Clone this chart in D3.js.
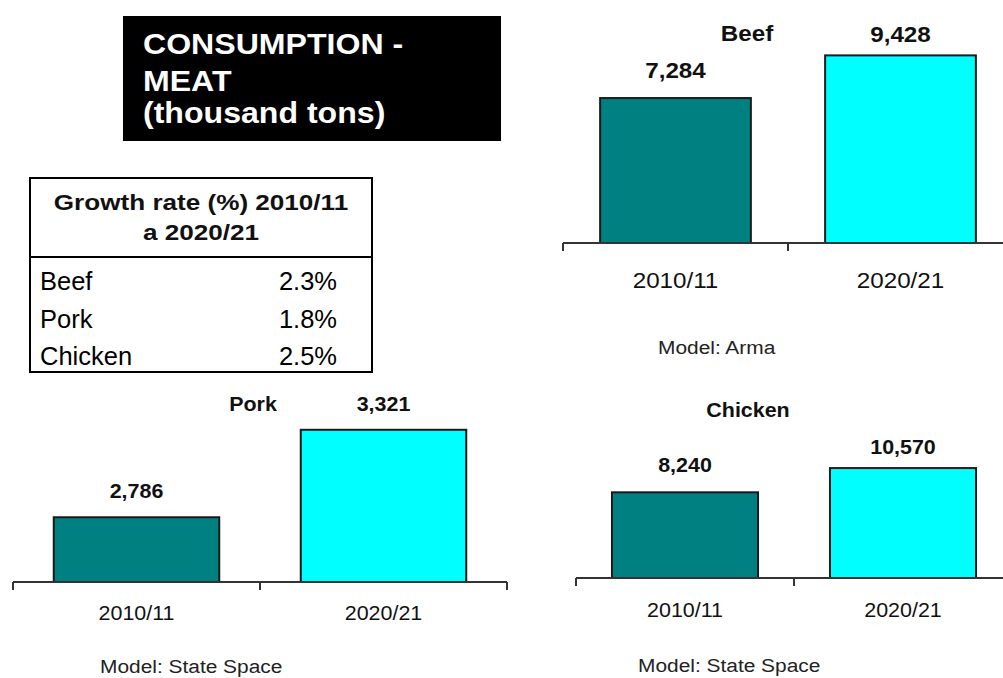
<!DOCTYPE html>
<html lang="en">
  <head>
    <meta charset="UTF-8" />
    <title>Consumption - Meat</title>
    <script src="https://cdn.jsdelivr.net/npm/d3@7"></script>
    <style>
      body {
        margin: 0;
        padding: 0;
        background: #fff;
      }
      text {
        font-family: "Liberation Sans", Arial, sans-serif;
      }
    </style>
  </head>
  <body>
    <svg id="chart"></svg>

    <script>
      // data
      const categories = ["2010/11", "2020/21"];
      const meats = ["Beef", "Pork", "Chicken"];
      const beefValues = [7284, 9428];
      const porkValues = [2786, 3321];
      const chickenValues = [8240, 10570];
      const models = ["Model: Arma", "Model: State Space", "Model: State Space"];
      const growthRates = [2.3, 1.8, 2.5];
      const titleLines = ["CONSUMPTION -", "MEAT", "(thousand tons)"];
      const tableHeader = ["Growth rate (%) 2010/11", "a 2020/21"];

      const barColors = ["#008080", "#00ffff"];
      const fmt = d3.format(",");

      const width = 1003;
      const height = 678;
      const svg = d3.select("#chart").attr("width", width).attr("height", height);

      // text in the picture is a bit wider than plain Arial
      function label(g, str, x, y, size, opts) {
        opts = opts || {};
        return g
          .append("text")
          .attr("transform", `translate(${x},${y}) scale(${opts.sx || 1.1},1)`)
          .attr("text-anchor", opts.anchor || "middle")
          .attr("font-size", size + "px")
          .attr("font-weight", opts.bold ? "bold" : "normal")
          .attr("fill", opts.fill || "#111")
          .text(str);
      }

      // title box
      svg.append("rect").attr("x", 123).attr("y", 16).attr("width", 378).attr("height", 125).attr("fill", "#000");
      const titleY = [54, 91, 123];
      titleLines.forEach((t, i) => {
        label(svg, t, 143, titleY[i], 30, { bold: true, anchor: "start", fill: "#fff", sx: 1.07 });
      });

      // growth-rate table
      const tbl = svg.append("g");
      tbl.append("rect").attr("x", 30).attr("y", 178).attr("width", 342).attr("height", 194)
        .attr("fill", "none").attr("stroke", "#000").attr("stroke-width", 2);
      tbl.append("line").attr("x1", 30).attr("x2", 372).attr("y1", 257).attr("y2", 257)
        .attr("stroke", "#000").attr("stroke-width", 2);
      label(tbl, tableHeader[0], 201, 210, 22.5, { bold: true, sx: 1.16 });
      label(tbl, tableHeader[1], 201, 240, 22.5, { bold: true, sx: 1.16 });
      const rowY = d3.scalePoint().domain(meats).range([290, 365]);
      meats.forEach((m, i) => {
        label(tbl, m, 40, rowY(m), 25.5, { anchor: "start", sx: 1, fill: "#000" });
        label(tbl, d3.format(".1f")(growthRates[i]) + "%", 337, rowY(m), 25.5, { anchor: "end", sx: 1, fill: "#000" });
      });

      // bar panels
      const panels = [
        { name: meats[0], values: beefValues, model: models[0], x0: 563, step: 225, axisY: 243,
          domain: [0, 10000], pxRange: 199, font: 22, titleX: 747, titleY: 41, gaps: [20, 13],
          catY: 288, modelX: 658, modelY: 354 },
        { name: meats[1], values: porkValues, model: models[1], x0: 13, step: 247, axisY: 582,
          domain: [2390, 3390], pxRange: 163.5, font: 19.5, titleX: 253, titleY: 411, gaps: [19, 19],
          catY: 620, modelX: 100, modelY: 673 },
        { name: meats[2], values: chickenValues, model: models[2], x0: 576, step: 218, axisY: 578,
          domain: [0, 10000], pxRange: 104, font: 19.5, titleX: 748, titleY: 417, gaps: [20, 14],
          catY: 617, modelX: 638, modelY: 672 },
      ];

      panels.forEach((p) => {
        const g = svg.append("g");
        const x = d3.scaleBand().domain(categories)
          .range([p.x0, p.x0 + 2 * p.step]).paddingInner(0.33).paddingOuter(0.165);
        const y = d3.scaleLinear().domain(p.domain).range([p.axisY, p.axisY - p.pxRange]);

        g.selectAll("rect.bar")
          .data(p.values)
          .enter()
          .append("rect")
          .attr("class", "bar")
          .attr("x", (d, i) => x(categories[i]))
          .attr("y", (d) => y(d))
          .attr("width", x.bandwidth())
          .attr("height", (d) => p.axisY - y(d))
          .attr("fill", (d, i) => barColors[i])
          .attr("stroke", "#1a1a1a")
          .attr("stroke-width", 2);

        // axis line with ticks on band edges
        g.append("line").attr("x1", p.x0).attr("x2", p.x0 + 2 * p.step)
          .attr("y1", p.axisY).attr("y2", p.axisY).attr("stroke", "#333").attr("stroke-width", 2);
        d3.range(categories.length + 1).forEach((i) => {
          const tx = x.range()[0] + i * x.step();
          g.append("line").attr("x1", tx).attr("x2", tx)
            .attr("y1", p.axisY).attr("y2", p.axisY + 8).attr("stroke", "#333").attr("stroke-width", 2);
        });

        p.values.forEach((v, i) => {
          const cx = x(categories[i]) + x.bandwidth() / 2;
          label(g, fmt(v), cx, y(v) - p.gaps[i], p.font, { bold: true });
          label(g, categories[i], cx, p.catY, p.font);
        });

        label(g, p.name, p.titleX, p.titleY, p.font, { bold: true });
        label(g, p.model, p.modelX, p.modelY, 19, { anchor: "start", fill: "#222" });
      });
    </script>
  </body>
</html>
